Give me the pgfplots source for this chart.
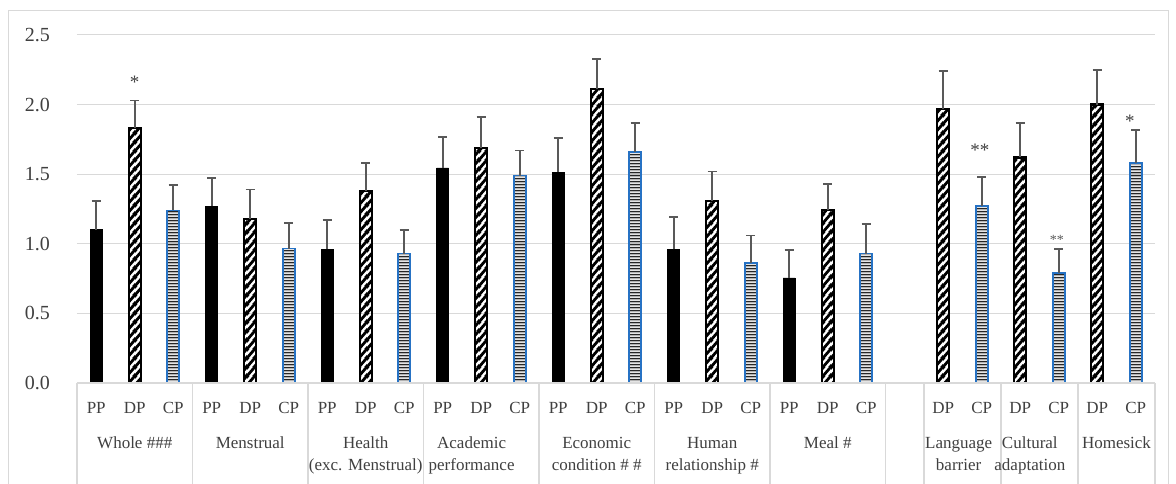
\documentclass[border=0pt]{standalone}
\usepackage{fontspec}
\setmainfont{Liberation Serif}
\usepackage{pgfplots}
\pgfplotsset{compat=1.18}
\usetikzlibrary{patterns}
\definecolor{gridc}{HTML}{D9D9D9}
\definecolor{cpblue}{HTML}{2672C4}
\definecolor{txt}{HTML}{404040}
\definecolor{errc}{HTML}{595959}
\pgfdeclarepatternformonly{dstripes}{\pgfpointorigin}{\pgfpoint{7.5bp}{9bp}}{\pgfpoint{7.5bp}{9bp}}{%
  \pgfsetlinewidth{3bp}%
  \pgfpathmoveto{\pgfpoint{-2bp}{-2.4bp}}\pgfpathlineto{\pgfpoint{9.5bp}{11.4bp}}%
  \pgfpathmoveto{\pgfpoint{5.5bp}{-2.4bp}}\pgfpathlineto{\pgfpoint{17bp}{11.4bp}}%
  \pgfpathmoveto{\pgfpoint{-9.5bp}{-2.4bp}}\pgfpathlineto{\pgfpoint{2bp}{11.4bp}}%
  \pgfusepath{stroke}}
\pgfdeclarepatternformonly{hdense}{\pgfpointorigin}{\pgfpoint{4bp}{2.8bp}}{\pgfpoint{4bp}{2.8bp}}{%
  \pgfsetlinewidth{1.6bp}%
  \pgfpathmoveto{\pgfpoint{-1bp}{1.4bp}}\pgfpathlineto{\pgfpoint{5bp}{1.4bp}}%
  \pgfusepath{stroke}}
\begin{document}
\begin{tikzpicture}
\useasboundingbox (-77bp,-101bp) rectangle (1099bp,383bp);
\draw[gridc, line width=0.8bp] (-69bp,-110bp) -- (-69bp,373bp) -- (1091bp,373bp) -- (1091bp,-110bp);
\begin{axis}[
  at={(0,0)}, anchor=south west,
  scale only axis, width=1078bp, height=348bp,
  xmin=0, xmax=28, ymin=0, ymax=2.5,
  axis line style={draw=none},
  ytick={0,0.5,...,2.5},
  ymajorgrids, grid style={gridc, line width=1bp},
  major tick length=0pt,
  yticklabel style={anchor=east, inner sep=0pt, xshift=-27bp, text=txt,
     font=\fontsize{20bp}{22bp}\selectfont},
  /pgf/number format/.cd, fixed, fixed zerofill, precision=1, assume math mode=true,
  /pgfplots/.cd,
  xtick={0.5,1.5,2.5,3.5,4.5,5.5,6.5,7.5,8.5,9.5,10.5,11.5,12.5,13.5,14.5,15.5,16.5,17.5,18.5,19.5,20.5,22.5,23.5,24.5,25.5,26.5,27.5},
  xticklabels={PP,DP,CP,PP,DP,CP,PP,DP,CP,PP,DP,CP,PP,DP,CP,PP,DP,CP,PP,DP,CP,DP,CP,DP,CP,DP,CP},
  xticklabel style={anchor=base, yshift=-30bp, text=txt, font=\fontsize{17bp}{20bp}\selectfont},
  clip=false,
  ybar, bar width=12bp,
  error bars/y dir=plus, error bars/y explicit,
  error bars/error bar style={errc, line width=1.8bp},
  error bars/error mark options={errc, line width=1.8bp, mark size=4.5bp, rotate=90},
]
% PP
\addplot[bar shift=0pt, fill=black, draw=black, line width=0.8bp] coordinates {
 (0.5,1.10) +- (0,0.21)
 (3.5,1.27) +- (0,0.20)
 (6.5,0.96) +- (0,0.21)
 (9.5,1.545) +- (0,0.22)
 (12.5,1.515) +- (0,0.245)
 (15.5,0.96) +- (0,0.23)
 (18.5,0.755) +- (0,0.20)
};
% DP
\addplot[bar shift=0pt, pattern=dstripes, pattern color=black, draw=black, line width=2.2bp] coordinates {
 (1.5,1.83) +- (0,0.20)
 (4.5,1.18) +- (0,0.21)
 (7.5,1.38) +- (0,0.20)
 (10.5,1.69) +- (0,0.22)
 (13.5,2.11) +- (0,0.22)
 (16.5,1.31) +- (0,0.21)
 (19.5,1.24) +- (0,0.19)
 (22.5,1.97) +- (0,0.27)
 (24.5,1.62) +- (0,0.25)
 (26.5,2.00) +- (0,0.25)
};
% CP
\addplot[bar shift=0pt, pattern=hdense, pattern color=black!85, draw=cpblue, line width=1.6bp] coordinates {
 (2.5,1.24) +- (0,0.18)
 (5.5,0.965) +- (0,0.185)
 (8.5,0.93) +- (0,0.17)
 (11.5,1.49) +- (0,0.18)
 (14.5,1.66) +- (0,0.21)
 (17.5,0.86) +- (0,0.20)
 (20.5,0.93) +- (0,0.21)
 (23.5,1.27) +- (0,0.21)
 (25.5,0.79) +- (0,0.17)
 (27.5,1.58) +- (0,0.24)
};
% zero line and separators
\draw[gridc, line width=1.2bp] (axis cs:0,0) -- (axis cs:28,0);
\pgfplotsinvokeforeach{0,3,6,9,12,15,18,21,22,24,26,28}{
  \draw[gridc, line width=1.2bp] (axis cs:#1,0) -- ++(0,-105bp);
}
% group labels
\begin{scope}[every node/.style={anchor=base, text=txt, inner sep=0pt, font=\fontsize{17bp}{20bp}\selectfont}]
\node at ([yshift=-65bp]axis cs:1.5,0) {Whole \#\#\#};
\node at ([yshift=-65bp]axis cs:4.5,0) {Menstrual};
\node at ([yshift=-65bp]axis cs:7.5,0) {Health};
\node at ([yshift=-87bp]axis cs:7.5,0) {(exc. Menstrual)};
\node at ([yshift=-65bp]axis cs:10.25,0) {Academic};
\node at ([yshift=-87bp]axis cs:10.25,0) {performance};
\node at ([yshift=-65bp]axis cs:13.5,0) {Economic};
\node at ([yshift=-87bp]axis cs:13.5,0) {condition \# \#};
\node at ([yshift=-65bp]axis cs:16.5,0) {Human};
\node at ([yshift=-87bp]axis cs:16.5,0) {relationship \#};
\node at ([yshift=-65bp]axis cs:19.5,0) {Meal \#};
\node at ([yshift=-65bp]axis cs:22.9,0) {Language};
\node at ([yshift=-87bp]axis cs:22.9,0) {barrier};
\node at ([yshift=-65bp]axis cs:24.75,0) {Cultural};
\node at ([yshift=-87bp]axis cs:24.75,0) {adaptation};
\node at ([yshift=-65bp]axis cs:27,0) {Homesick};
\end{scope}
% significance marks
\begin{scope}[every node/.style={text=txt, inner sep=0pt, font=\fontsize{19bp}{20bp}\selectfont}]
\node at (axis cs:1.5,2.16) {*};
\node at (axis cs:23.45,1.67) {**};
\node[font=\fontsize{14bp}{15bp}\selectfont, text=errc] at (axis cs:25.45,1.03) {**};
\node at (axis cs:27.35,1.88) {*};
\end{scope}
\end{axis}
\end{tikzpicture}
\end{document}
